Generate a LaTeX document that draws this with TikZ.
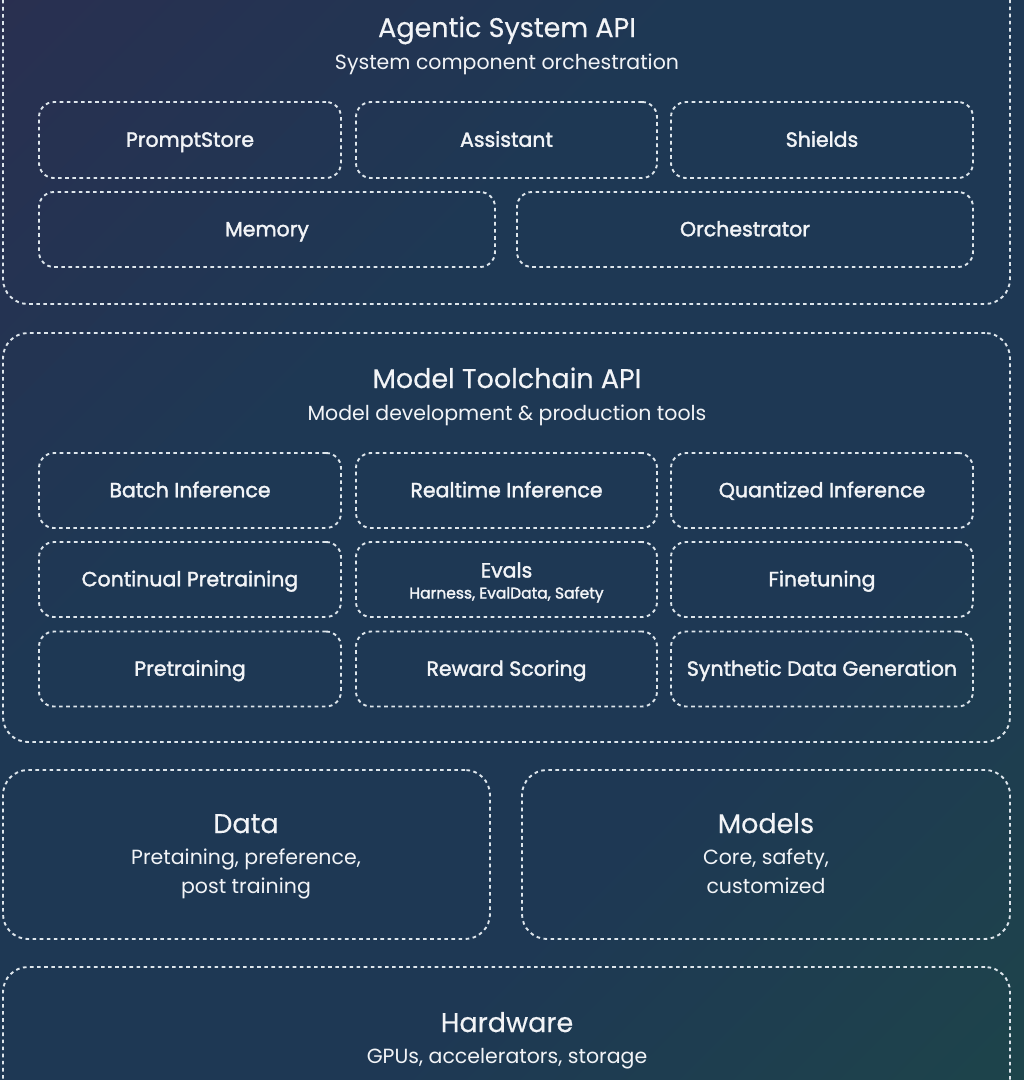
\documentclass[tikz,border=0pt]{standalone}
\usepackage{fontspec}
\setmainfont{Poppins}
\newfontfamily\medfont{Poppins}[FakeBold=1.8]
\newfontfamily\headfont{Poppins}[FakeBold=0.35]

\definecolor{bgA}{RGB}{48,42,78}
\definecolor{bgB}{RGB}{30,56,84}
\definecolor{bgC}{RGB}{29,76,68}
\definecolor{dotc}{RGB}{222,230,236}
\definecolor{txt}{RGB}{242,244,247}

\pgfdeclarehorizontalshading{bgshade}{100bp}{color(0bp)=(bgA); color(38bp)=(bgB); color(64bp)=(bgB); color(100bp)=(bgC)}

\begin{document}
\begin{tikzpicture}[x=1pt, y=-1pt,
  dotline/.style={draw=dotc, line width=1.9pt, dash pattern=on 3.6pt off 3.5pt},
  frame/.style={dotline, rounded corners=25pt, inner sep=0pt},
  cell/.style={dotline, rounded corners=15pt, inner sep=0pt, text=txt, align=center,
    text height=14.5pt, text depth=1pt,
    font=\medfont\fontsize{20.5}{24}\selectfont},
  celltext/.style={text=txt, inner sep=0pt, anchor=base},
  head/.style={text=txt, inner sep=0pt, anchor=base, font=\headfont\fontsize{27}{32}\selectfont},
  sub/.style={text=txt, inner sep=0pt, anchor=base, font=\fontsize{20.5}{29}\selectfont},
]
\useasboundingbox (0,0) rectangle (1024,1080);
\clip (0,0) rectangle (1024,1080);
\shade[shading=bgshade, shading angle=-45] (0,0) rectangle (1024,1080);

% Agentic System API layer
\node[frame, minimum width=1007pt, minimum height=334pt] (agentic) at (506.5,137) {};
\node[head] (agT) at (507,37) {Agentic System API};
\node[sub] (agS) at (507,69) {System component orchestration};
\node[cell, minimum width=302pt, minimum height=76pt] (prompt) at (190,140) {PromptStore};
\node[cell, minimum width=301pt, minimum height=76pt] (assist) at (506.5,140) {Assistant};
\node[cell, minimum width=302pt, minimum height=76pt] (shields) at (822,140) {Shields};
\node[cell, minimum width=456pt, minimum height=75pt] (memory) at (267,229.5) {Memory};
\node[cell, minimum width=456pt, minimum height=75pt] (orch) at (745,229.5) {Orchestrator};

% Model Toolchain API layer
\node[frame, minimum width=1007pt, minimum height=409pt] (toolchain) at (506.5,537.5) {};
\node[head] (tcT) at (507,388) {Model Toolchain API};
\node[sub] (tcS) at (507,420) {Model development \& production tools};
\node[cell, minimum width=302pt, minimum height=75pt] (batch) at (190,490.5) {Batch Inference};
\node[cell, minimum width=301pt, minimum height=75pt] (realtime) at (506.5,490.5) {Realtime Inference};
\node[cell, minimum width=302pt, minimum height=75pt] (quant) at (822,490.5) {Quantized Inference};
\node[cell, minimum width=302pt, minimum height=75pt] (contpre) at (190,579.5) {Continual Pretraining};
\node[cell, minimum width=301pt, minimum height=75pt] (evals) at (506.5,579.5) {};
\node[celltext, font=\medfont\fontsize{20.5}{24}\selectfont] (evalsT) at (506.5,577.5) {Evals};
\node[celltext, font=\medfont\fontsize{15.5}{18}\selectfont] (evalsS) at (506.5,598.5) {Harness, EvalData, Safety};
\node[cell, minimum width=302pt, minimum height=75pt] (finetune) at (822,579.5) {Finetuning};
\node[cell, minimum width=302pt, minimum height=75pt] (pretrain) at (190,669) {Pretraining};
\node[cell, minimum width=301pt, minimum height=75pt] (reward) at (506.5,669) {Reward Scoring};
\node[cell, minimum width=302pt, minimum height=75pt] (synth) at (822,669) {Synthetic Data Generation};

% Data and Models layer
\node[frame, minimum width=487pt, minimum height=169pt] (data) at (246.5,854.5) {};
\node[head] (dataT) at (246,833) {Data};
\node[sub] (dataS1) at (246,864) {Pretaining, preference,};
\node[sub] (dataS2) at (246,893) {post training};
\node[frame, minimum width=488pt, minimum height=169pt] (models) at (766,854.5) {};
\node[head] (modelsT) at (766,833) {Models};
\node[sub] (modelsS1) at (766,864) {Core, safety,};
\node[sub] (modelsS2) at (766,893) {customized};

% Hardware layer
\node[frame, minimum width=1007pt, minimum height=143pt] (hw) at (506.5,1038.5) {};
\node[head] (hwT) at (507,1032) {Hardware};
\node[sub] (hwS) at (507,1063) {GPUs, accelerators, storage};
\end{tikzpicture}
\end{document}
